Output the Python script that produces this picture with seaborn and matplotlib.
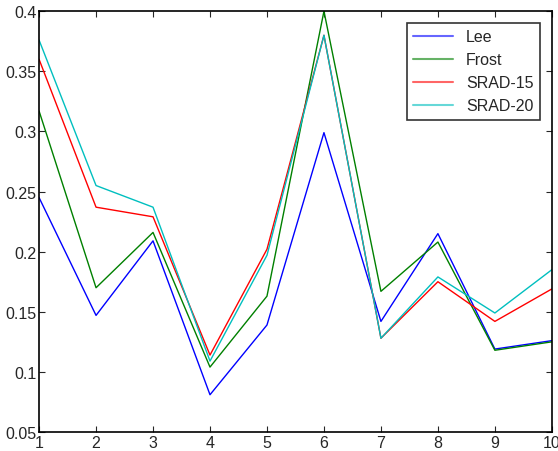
import pandas as pd
import seaborn as sns
import matplotlib.pyplot as plt

## data
x = [1, 2, 3, 4, 5, 6, 7, 8, 9, 10]
lee = [0.245, 0.147, 0.209, 0.081, 0.139, 0.299, 0.142, 0.215, 0.119, 0.126]
frost = [0.317, 0.170, 0.216, 0.104, 0.163, 0.400, 0.167, 0.208, 0.118, 0.125]
srad15 = [0.360, 0.237, 0.229, 0.114, 0.202, 0.380, 0.128, 0.175, 0.142, 0.169]
srad20 = [0.376, 0.255, 0.237, 0.109, 0.197, 0.380, 0.128, 0.179, 0.149, 0.185]
names = ['Lee', 'Frost', 'SRAD-15', 'SRAD-20']

rows = []
for name, vals in zip(names, [lee, frost, srad15, srad20]):
    for xi, v in zip(x, vals):
        rows.append({'x': xi, 'value': v, 'method': name})
df = pd.DataFrame(rows)

sns.set_style('ticks')
plt.rcParams['font.family'] = ['Liberation Sans', 'DejaVu Sans']

fig = plt.figure(figsize=(5.58, 4.52), dpi=100)
ax = fig.add_axes([0.07, 0.042, 0.919, 0.931])

palette = {'Lee': '#0000ff', 'Frost': '#008000', 'SRAD-15': '#ff0000', 'SRAD-20': '#00bfbf'}
sns.lineplot(data=df, x='x', y='value', hue='method', hue_order=names,
             palette=palette, linewidth=1.0, ax=ax)

ax.set_xlim(1, 10)
ax.set_ylim(0.05, 0.4)
ax.set_xticks(x)
ax.set_xticklabels([str(i) for i in x])
ax.set_yticks([0.05, 0.1, 0.15, 0.2, 0.25, 0.3, 0.35, 0.4])
ax.set_yticklabels(['0.05', '0.1', '0.15', '0.2', '0.25', '0.3', '0.35', '0.4'])
ax.set_xlabel('')
ax.set_ylabel('')
ax.tick_params(direction='in', top=True, right=True, labelsize=11.5, length=4, pad=2)
for s in ax.spines.values():
    s.set_linewidth(1.2)
    s.set_color('black')

leg = ax.legend(loc='upper right', bbox_to_anchor=(0.977, 0.972), fontsize=11.5,
                frameon=True, fancybox=False, edgecolor='black', handlelength=2.5,
                borderpad=0.4, labelspacing=0.5, borderaxespad=0)
leg.get_frame().set_linewidth(1.2)
for line in leg.get_lines():
    line.set_linewidth(1.5)
    line.set_alpha(0.6)

fig.savefig('out.png', dpi=100)
